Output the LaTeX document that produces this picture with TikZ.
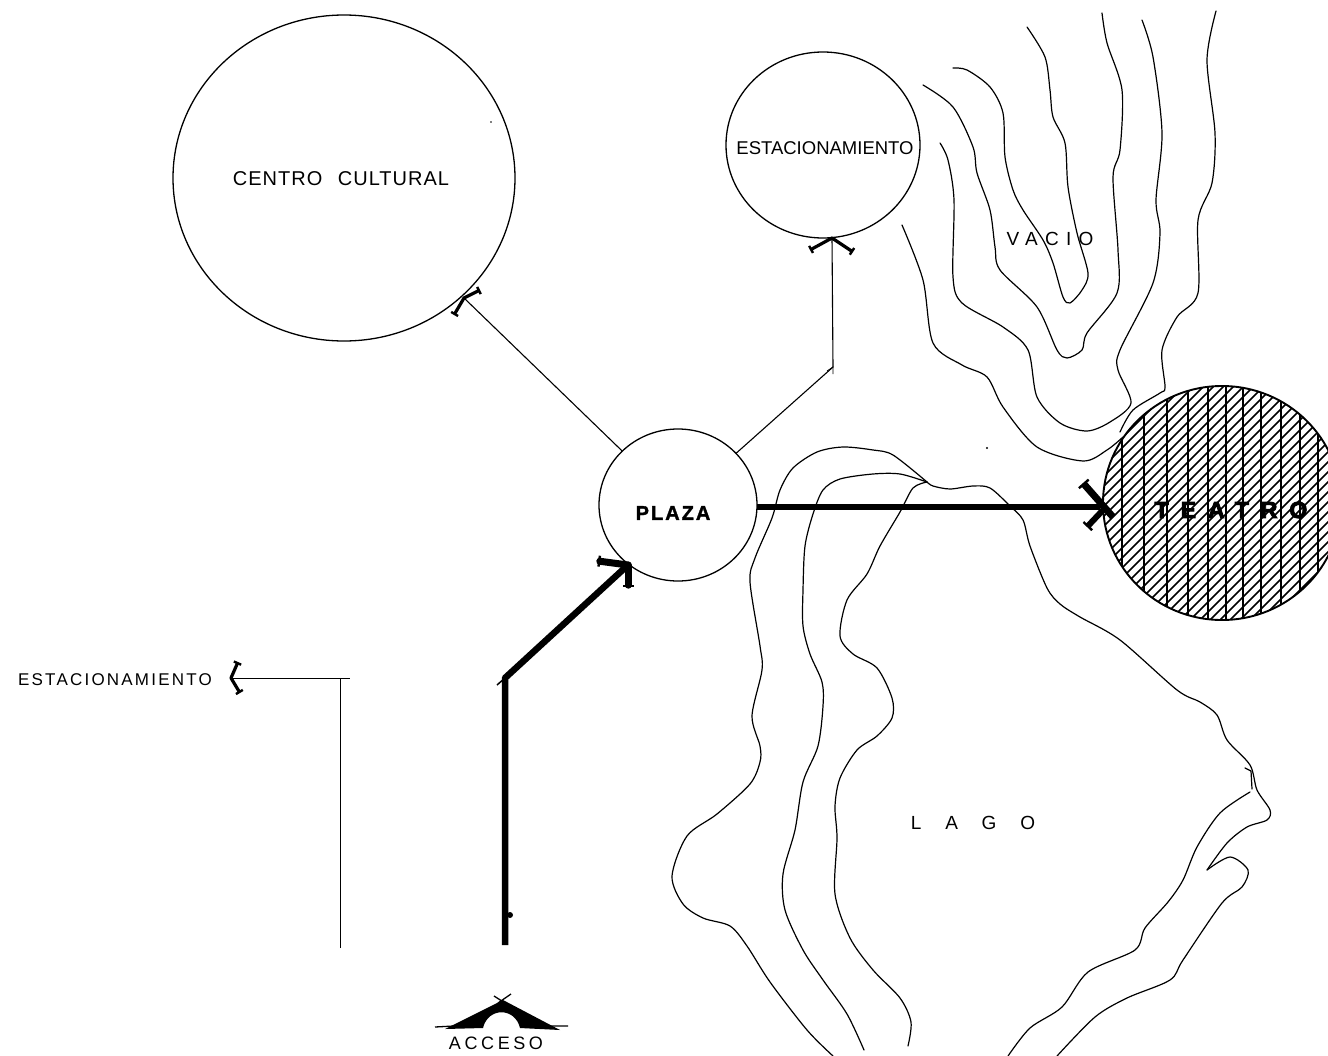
\documentclass[tikz,border=0pt]{standalone}
\usepackage{fontspec}
\setmainfont{Liberation Sans}
\usetikzlibrary{shapes.geometric,arrows.meta,calc}
\newcommand{\lbl}[2]{\fontsize{#1}{#1}\selectfont\addfontfeature{LetterSpace=#2}}
\newcommand{\lblb}[3]{\fontsize{#1}{#1}\selectfont\bfseries\addfontfeature{LetterSpace=#2,FakeBold=#3}}
\newcommand{\barbhead}[5]{%
  \draw[line width=#4,line cap=round,-{Bar[width=#5,line width=2.4pt]}] (#1) -- (#2);
  \draw[line width=#4,line cap=round,-{Bar[width=#5,line width=2.4pt]}] (#1) -- (#3);}
\tikzset{
  circ/.style={shape=ellipse,draw,line width=1.3pt,inner sep=0pt,outer sep=0pt},
  contour/.style={line width=1.2pt,line join=round,line cap=round},
  fine/.style={line width=1.1pt},
  hair/.style={line width=.8pt},
  thickroad/.style={line width=6.5pt,line join=round},
  label/.style={inner sep=0pt,outer sep=0pt,text=black}
}
\begin{document}
\begin{tikzpicture}[x=1pt,y=-1pt]
\useasboundingbox (0,0) rectangle (1328,1055);
\clip (0,0) rectangle (1328,1055);
\fill[white] (0,0) rectangle (1328,1055);

% Terrain contours (VACIO)
\draw[contour] plot[smooth,tension=.5] coordinates {(1027,27)(1045,57)(1050,90)(1053,117)(1065,143)(1068,187)(1077,233)(1088,273)(1082,290)(1070,303)(1063,297)(1053,263)(1043,240)(1023,210)(1013,190)(1005,157)(1003,113)(990,87)(967,70)(953,68)};
\draw[contour] plot[smooth,tension=.5] coordinates {(1102,13)(1107,43)(1122,90)(1120,150)(1113,177)(1118,250)(1117,293)(1087,333)(1082,350)(1067,358)(1057,350)(1037,307)(1000,270)(995,247)(990,210)(977,173)(973,147)(953,107)(923,85)};
\draw[contour] plot[smooth,tension=.5] coordinates {(1142,20)(1153,57)(1162,133)(1156,200)(1160,233)(1153,283)(1120,350)(1118,370)(1131,403)(1110,422)(1087,431)(1060,423)(1037,397)(1028,350)(1003,327)(962,303)(953,277)(954,200)(948,160)(940,143)};
\draw[contour] plot[smooth,tension=.5] coordinates {(1216,11)(1207,60)(1215,133)(1212,183)(1198,220)(1198,293)(1177,317)(1162,350)(1165,387)(1160,393)(1133,410)(1120,432)};
\draw[contour] plot[smooth,tension=.5] coordinates {(902,225)(923,280)(933,343)(962,365)(987,377)(1003,407)(1037,447)(1083,461)(1107,450)(1123,437)};

% Lake contours
\draw[contour] plot[smooth,tension=.5] coordinates {(927,482)(893,455)(873,450)(843,447)(817,452)(793,468)(780,490)(772,518)(755,558)(750,582)(760,646)(762,670)(752,716)(760,746)(760,762)(750,784)(717,814)(687,836)(672,876)(683,904)(703,918)(730,926)(747,946)(770,982)(807,1030)(833,1056)};
\draw[contour] plot[smooth,tension=.5] coordinates {(927,482)(900,474)(873,474)(840,479)(823,490)(813,514)(805,546)(803,590)(803,626)(810,654)(822,682)(823,706)(818,746)(803,782)(795,830)(783,874)(785,910)(803,950)(823,980)(847,1014)(864,1050)};
\draw[contour] plot[smooth,tension=.5] coordinates {(927,482)(913,488)(900,512)(880,546)(867,574)(847,600)(840,636)(853,654)(877,668)(892,698)(892,718)(877,736)(857,750)(840,778)(835,806)(837,838)(835,894)(850,938)(873,970)(900,998)(911,1022)(908,1046)};
\draw[contour] plot[smooth,tension=.5] coordinates {(927,482)(933,486)(950,489)(973,486)(990,488)(1010,506)(1023,520)(1030,546)(1047,588)(1060,604)(1080,617)(1120,640)(1177,690)(1200,702)(1217,715)(1227,740)(1250,765)(1257,790)(1270,810)(1267,820)(1247,827)(1227,843)(1207,870)};
\draw[contour] plot[smooth,tension=.5] coordinates {(1207,870)(1230,857)(1248,870)(1242,887)(1222,903)(1183,960)(1170,980)(1127,998)(1095,1017)(1057,1056)};
\draw[contour] plot[smooth,tension=.5] coordinates {(1250,792)(1220,813)(1197,847)(1183,880)(1168,902)(1145,928)(1135,950)(1088,972)(1062,1007)(1030,1028)(1008,1056)};
\draw[contour] (1245,768) -- (1251,771) -- (1252,789);
\fill (987,448) circle (1.2);
\fill (491,122) circle (.9);

% Teatro: hatched circle
\begin{scope}
  \clip (1222,503) ellipse [x radius=119,y radius=117];
  \foreach \c in {1540,1550,...,1900} {
    \draw[line width=1.5pt] (\c-340,340) -- (\c-660,660);
  }
  \foreach \x in {1122,1144,1167,1188,1208,1226,1243,1261,1281,1300,1318} {
    \draw[line width=1.7pt] (\x,370) -- (\x,640);
  }
\end{scope}

% Circles
\node[circ,minimum width=342pt,minimum height=326pt] (cc) at (344,178) {};
\node[circ,minimum width=194pt,minimum height=186pt] (est) at (823,145) {};
\node[circ,minimum width=158pt,minimum height=152pt] (plaza) at (678,505) {};
\node[circ,line width=1.9pt,minimum width=238pt,minimum height=234pt] (teatro) at (1222,503) {};

% Labels
\node[label] (lcc) at (341,179) {\lbl{20}{5}CENTRO\hspace{9pt} CULTURAL};
\node[label] (lest) at (825,148) {\lbl{18.5}{0}ESTACIONAMIENTO};
\node[label] (lplaza) at (673,513) {\lblb{20}{10}{1.5}PLAZA};
\node[label] (lvacio) at (1050,239) {\lbl{19}{38}VACIO};
\node[label] (llago) at (973,823) {\lbl{19}{125}LAGO};
\node[label] (lteatro) at (1231,510) {\lblb{23}{52}{4}TEATRO};
\node[label] (lest2) at (115,680) {\lbl{17}{13}ESTACIONAMIENTO};
\node[label] (lacc) at (496,1043) {\lbl{18}{20}ACCESO};

% Thin connectors
\coordinate (tipcc) at (464,298);
\coordinate (tipest) at (832,238);
\coordinate (bendest) at (833,367);
\coordinate (tipest2) at (231,678);
\coordinate (bendest2) at (340,678);
\coordinate (overest2) at (350,678);
\coordinate (startest2) at (340,948);

\draw[fine] (plaza) -- (tipcc);
\barbhead{tipcc}{480,290}{454,315}{3.2pt}{8pt}

\draw[fine] (plaza) -- (bendest) -- (tipest);
\draw[hair] (827,371) -- (bendest) -- (833,374);
\barbhead{tipest}{810,250}{853,252}{3.2pt}{8pt}

\draw[hair] (startest2) -- (bendest2) -- (tipest2);
\draw[hair] (bendest2) -- (overest2);
\barbhead{tipest2}{238,662}{240,693}{3.2pt}{8pt}

% Thick routes
\coordinate (roadstart) at (505,945);
\coordinate (roadbend) at (505,678);
\coordinate (tipplaza) at (628,565);
\draw[thickroad] (roadstart) -- (roadbend) -- (tipplaza);
\draw[line width=1.5pt] (505,678) -- (497,685);
\fill (510,915) circle (3);
\barbhead{tipplaza}{598,561}{628,587}{7pt}{11pt}

\coordinate (tipteatro) at (1113,517);
\coordinate (jointeatro) at (1103,510);
\draw[line width=6pt] (plaza.east |- 0,507) -- (1100,507);
\draw[line width=7pt,-{Bar[width=13pt,line width=2.4pt]}] (tipteatro) -- (1083,483);
\draw[line width=6pt,-{Bar[width=12pt,line width=2.4pt]}] (jointeatro) -- (1087,527);

% Acceso mark
\fill (445,1029) -- (503,1000) -- (560,1030) -- (520,1028)
  .. controls (515,1007) and (488,1007) .. (483,1028) -- cycle;
\draw[line width=1.3pt] (494,996) -- (505,1003) (511,994) -- (498,1003);
\draw[line width=1.3pt] (435,1027) -- (454,1026) (548,1026) -- (568,1026);
\end{tikzpicture}
\end{document}
